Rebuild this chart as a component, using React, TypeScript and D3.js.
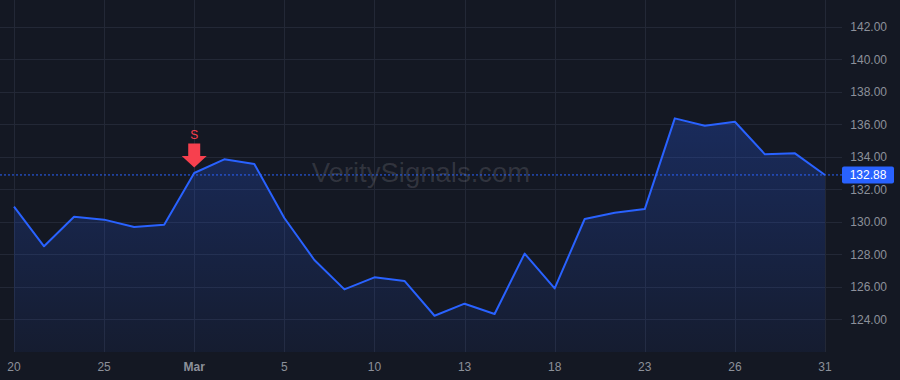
import React from "react";
import * as d3 from "d3";

const dates = [
  "2024-02-20", "2024-02-22", "2024-02-24", "2024-02-25", "2024-02-26", "2024-02-27",
  "2024-03-01", "2024-03-03", "2024-03-04", "2024-03-05", "2024-03-06", "2024-03-08",
  "2024-03-10", "2024-03-11", "2024-03-12", "2024-03-13", "2024-03-15", "2024-03-17",
  "2024-03-18", "2024-03-19", "2024-03-21", "2024-03-23", "2024-03-24", "2024-03-25",
  "2024-03-26", "2024-03-28", "2024-03-30", "2024-03-31",
];
const prices = [
  130.93, 128.49, 130.31, 130.13, 129.68, 129.82, 133.0, 133.84, 133.55, 130.23,
  127.65, 125.84, 126.58, 126.36, 124.22, 124.96, 124.33, 128.04, 125.9, 130.17,
  130.56, 130.78, 136.36, 135.91, 136.15, 134.15, 134.21, 132.88,
];
const xTickDates = [
  "2024-02-20", "2024-02-25", "2024-03-01", "2024-03-05", "2024-03-10",
  "2024-03-13", "2024-03-18", "2024-03-23", "2024-03-26", "2024-03-31",
];
const xTickLabels = ["20", "25", "Mar", "5", "10", "13", "18", "23", "26", "31"];
const yTicks = [124, 126, 128, 130, 132, 134, 136, 138, 140, 142];
const lastPrice = 132.88;
const signalDate = "2024-03-01";
const signalLabel = "S";
const watermark = "VeritySignals.com";

const W = 900;
const H = 380;
const paneRight = 842;
const paneBottom = 352;
const BG = "#141823";
const GRID = "#232836";
const TEXT = "#8c909a";
const BLUE = "#2962ff";
const RED = "#f7404e";
const FONT = "'Liberation Sans', Arial, sans-serif";

export default function App() {
  const x = d3.scalePoint<string>().domain(dates).range([14, 825]);
  const y = d3.scaleLinear().domain([124, 142]).range([319.3, 26.7]);

  const pts = dates.map((d, i) => [x(d) as number, y(prices[i])] as [number, number]);
  const line = d3.line<[number, number]>().x((p) => p[0]).y((p) => p[1])(pts) || "";
  const area =
    d3
      .area<[number, number]>()
      .x((p) => p[0])
      .y0(paneBottom)
      .y1((p) => p[1])(pts) || "";

  const sx = x(signalDate) as number;
  const sy = y(prices[dates.indexOf(signalDate)]);
  const ly = y(lastPrice);

  return (
    <svg
      width={W}
      height={H}
      style={{ position: "absolute", left: 0, top: 0, display: "block", background: BG }}
    >
      <defs>
        <linearGradient id="aGrad" x1="0" x2="0" y1={y(136.4)} y2={paneBottom} gradientUnits="userSpaceOnUse">
          <stop offset="0%" stopColor={BLUE} stopOpacity={0.26} />
          <stop offset="100%" stopColor={BLUE} stopOpacity={0.06} />
        </linearGradient>
      </defs>
      <rect x={0} y={0} width={W} height={H} fill={BG} />
      {yTicks.map((t) => (
        <line key={"h" + t} x1={0} x2={paneRight} y1={Math.round(y(t)) + 0.5} y2={Math.round(y(t)) + 0.5} stroke={GRID} strokeWidth={1} />
      ))}
      {xTickDates.map((d) => (
        <line key={"v" + d} x1={Math.round(x(d) as number) + 0.5} x2={Math.round(x(d) as number) + 0.5} y1={0} y2={paneBottom} stroke={GRID} strokeWidth={1} />
      ))}
      <text x={421} y={182} textAnchor="middle" fontFamily={FONT} fontSize={27.5} fill="#ffffff" fillOpacity={0.13}>
        {watermark}
      </text>
      <path d={area} fill="url(#aGrad)" />
      <path d={line} fill="none" stroke={BLUE} strokeWidth={2} strokeLinejoin="round" />
      <line x1={0} x2={paneRight} y1={ly} y2={ly} stroke={BLUE} strokeWidth={1} strokeDasharray="2 2" />
      <text x={sx} y={139} textAnchor="middle" fontFamily={FONT} fontSize={12} fill={RED}>
        {signalLabel}
      </text>
      <path
        d={`M${sx - 6},${sy - 29.5} L${sx + 6},${sy - 29.5} L${sx + 6},${sy - 17} L${sx + 12.5},${sy - 17} L${sx},${sy - 5.5} L${sx - 12.5},${sy - 17} L${sx - 6},${sy - 17} Z`}
        fill={RED}
      />
      {yTicks.map((t) => (
        <text key={"yl" + t} x={887} y={y(t) + 4.5} textAnchor="end" fontFamily={FONT} fontSize={12} fill={TEXT}>
          {t.toFixed(2)}
        </text>
      ))}
      <rect x={842} y={ly - 8.5} width={52} height={17} rx={2} fill={BLUE} />
      <text x={868} y={ly + 4.5} textAnchor="middle" fontFamily={FONT} fontSize={12} fill="#ffffff">
        {lastPrice.toFixed(2)}
      </text>
      {xTickDates.map((d, i) => (
        <text
          key={"xl" + d}
          x={x(d) as number}
          y={371}
          textAnchor="middle"
          fontFamily={FONT}
          fontSize={12}
          fontWeight={xTickLabels[i] === "Mar" ? "bold" : "normal"}
          fill={TEXT}
        >
          {xTickLabels[i]}
        </text>
      ))}
    </svg>
  );
}
